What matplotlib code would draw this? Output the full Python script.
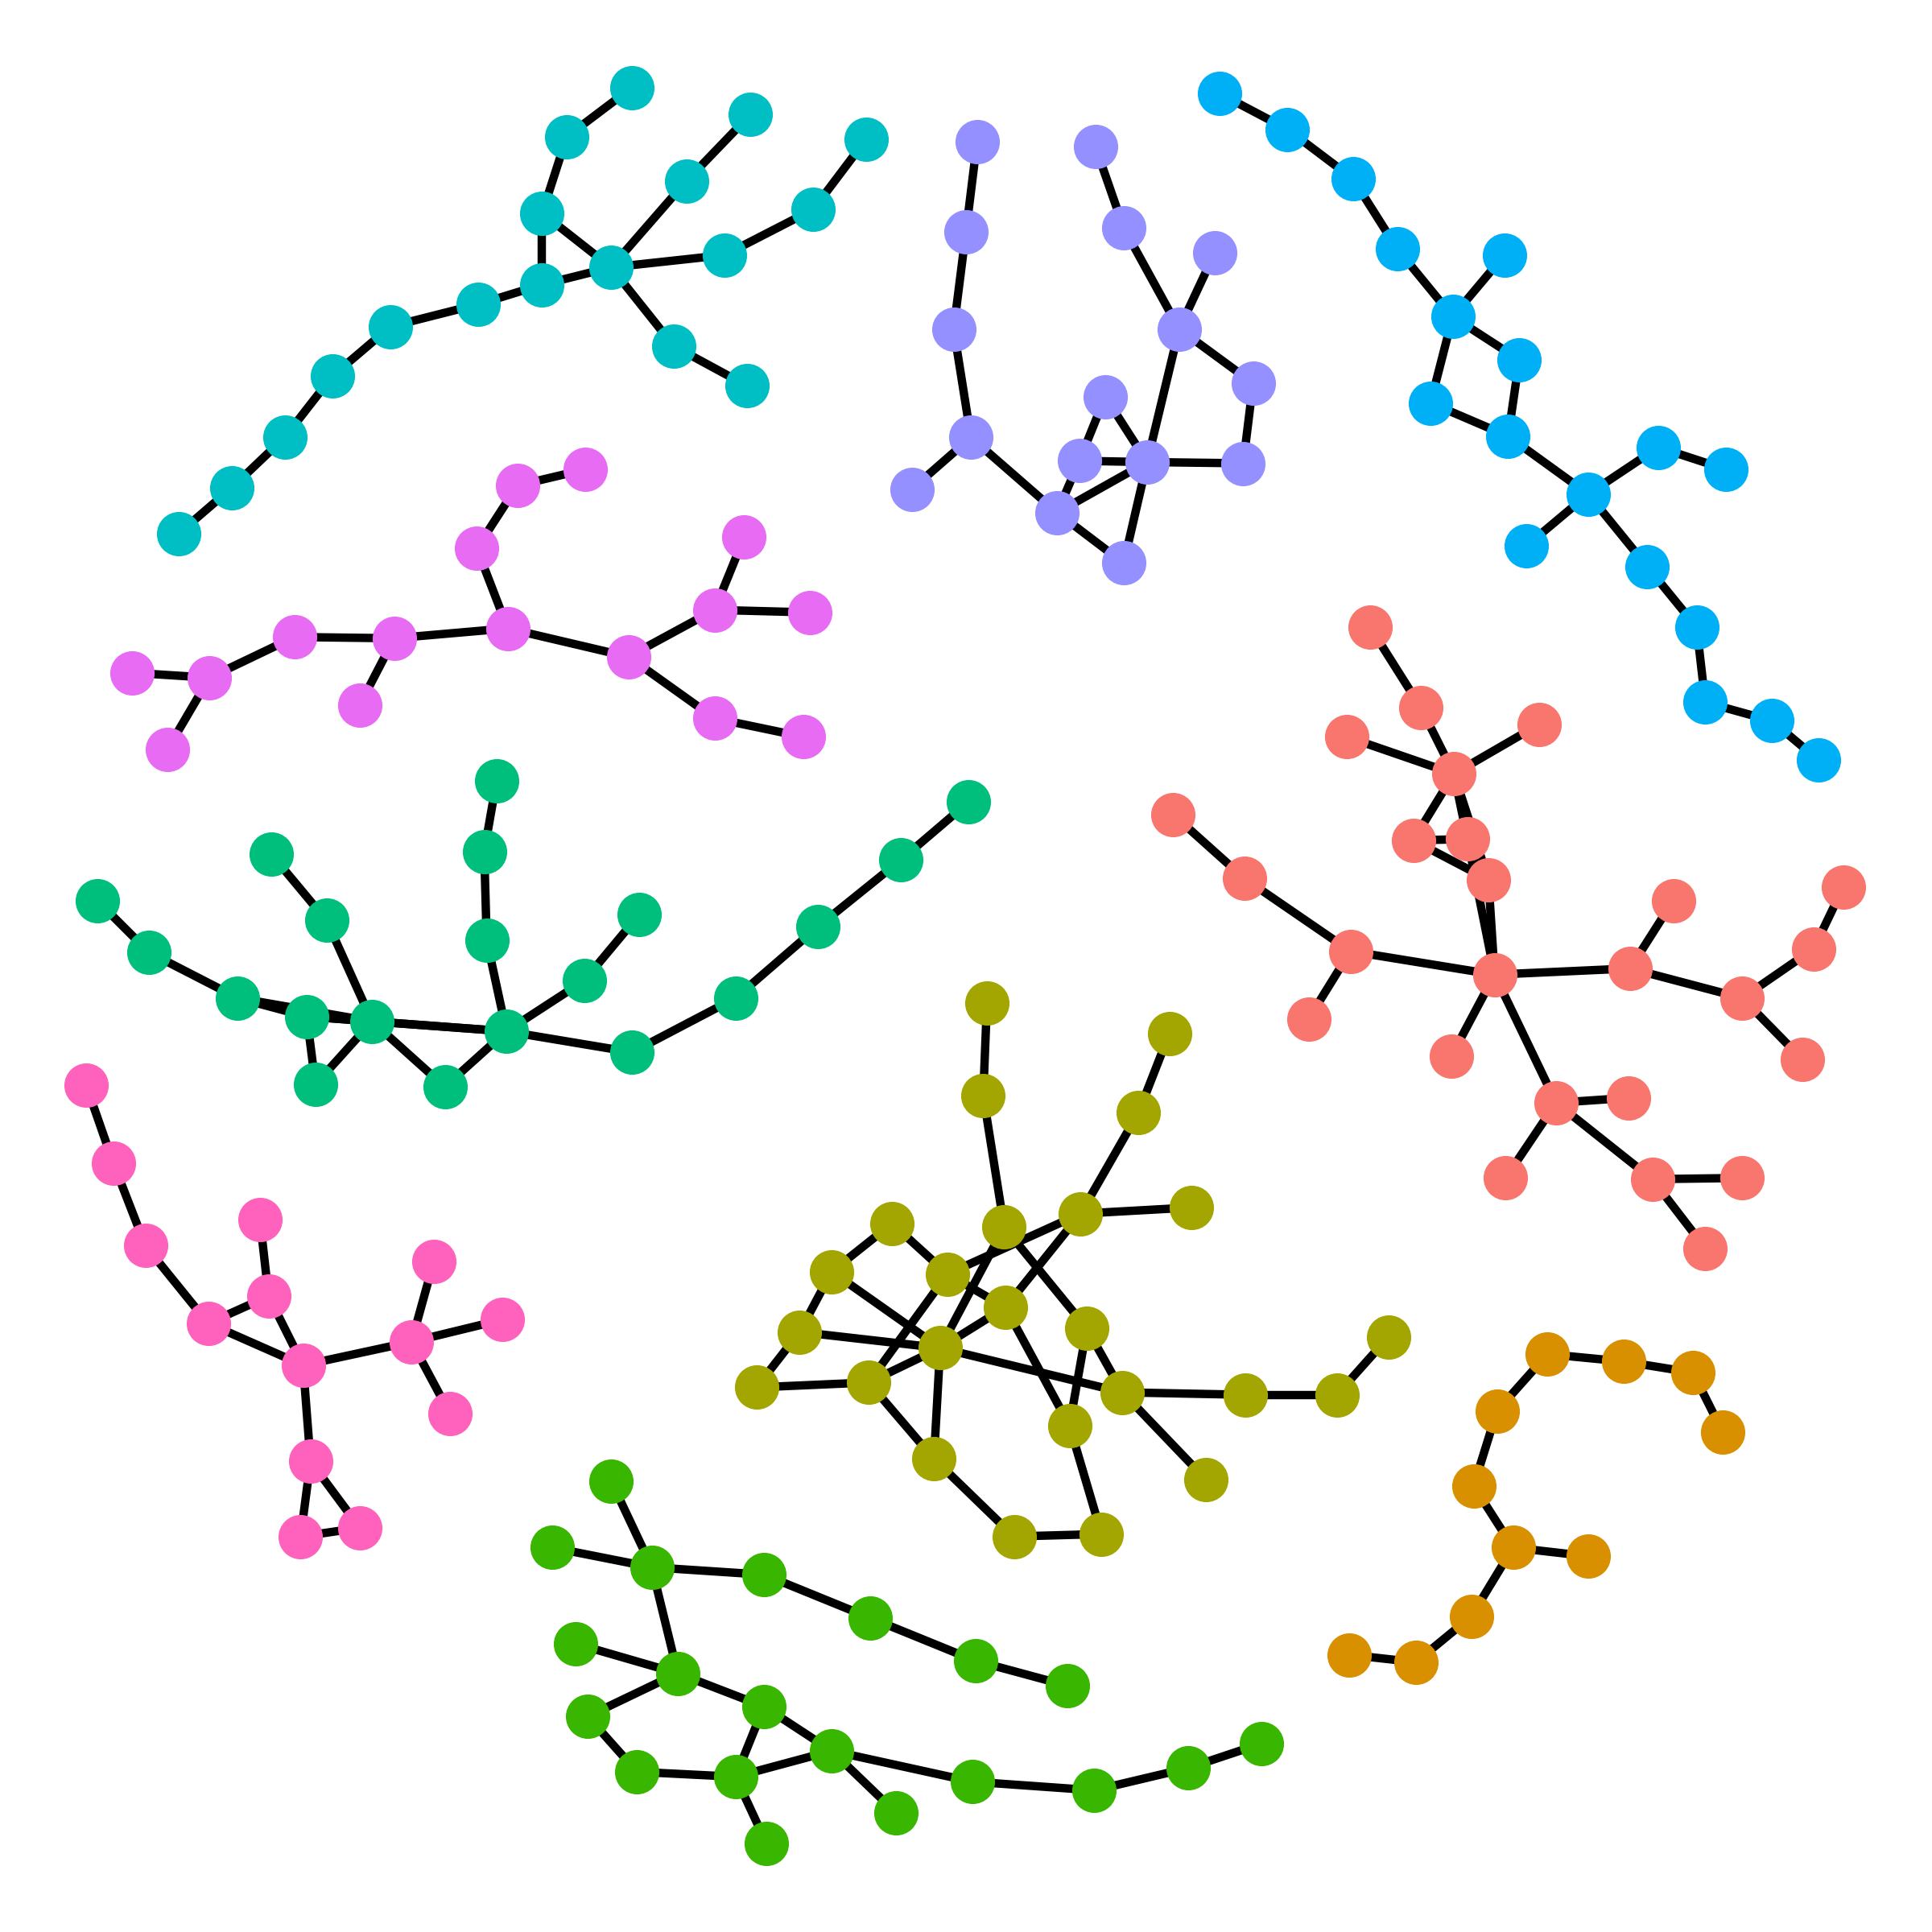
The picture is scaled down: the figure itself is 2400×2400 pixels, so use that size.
import matplotlib
matplotlib.use("Agg")
import matplotlib.pyplot as plt

# layout coordinates (pixel units on a 1568 x 1568 canvas, y grows downwards)
teal_x = [513, 460, 440, 440, 496, 557, 609, 588, 660, 703, 547, 606, 388, 317, 270, 231, 188, 145]
teal_y = [71, 111, 173, 231, 217, 147, 93, 207, 170, 113, 281, 313, 247, 265, 305, 355, 396, 433]
teal_edges = [(0, 1), (1, 2), (2, 3), (2, 4), (3, 4), (4, 5), (5, 6), (4, 7), (7, 8), (8, 9),
              (4, 10), (10, 11), (3, 12), (12, 13), (13, 14), (14, 15), (15, 16), (16, 17)]

lav_x = [793, 784, 774, 788, 740, 858, 889, 912, 957, 986, 1017, 1009, 931, 876, 897, 912]
lav_y = [115, 188, 267, 355, 397, 416, 119, 185, 267, 205, 311, 376, 375, 374, 322, 457]
lav_edges = [(0, 1), (1, 2), (2, 3), (3, 4), (3, 5), (6, 7), (7, 8), (8, 9), (8, 10), (10, 11),
             (11, 12), (8, 12), (12, 13), (12, 14), (13, 14), (13, 5), (5, 12), (5, 15), (12, 15)]

blue_x = [990, 1045, 1098, 1134, 1179, 1221, 1233, 1161, 1224, 1289, 1346, 1401, 1239, 1337, 1377, 1384, 1438, 1476]
blue_y = [76, 105, 145, 202, 257, 207, 292, 327, 354, 401, 363, 381, 443, 460, 509, 570, 585, 617]
blue_edges = [(0, 1), (1, 2), (2, 3), (3, 4), (4, 5), (4, 6), (4, 7), (6, 8), (7, 8), (8, 9),
              (9, 10), (10, 11), (9, 12), (9, 13), (13, 14), (14, 15), (15, 16), (16, 17)]

mag_x = [475, 420, 387, 412, 320, 239, 170, 107, 136, 292, 510, 580, 604, 657, 580, 652]
mag_y = [381, 394, 445, 510, 518, 517, 550, 546, 608, 572, 533, 495, 436, 497, 583, 598]
mag_edges = [(0, 1), (1, 2), (2, 3), (3, 4), (4, 5), (5, 6), (6, 7), (6, 8), (4, 9), (3, 10),
             (10, 11), (11, 12), (11, 13), (10, 14), (14, 15)]

sea_x = [786, 731, 664, 597, 513, 411, 474, 519, 395, 393, 403, 361, 302, 256, 249, 193, 121, 79, 265, 220]
sea_y = [651, 698, 752, 810, 854, 837, 796, 742, 763, 691, 634, 882, 829, 880, 825, 810, 773, 731, 747, 693]
sea_edges = [(0, 1), (1, 2), (2, 3), (3, 4), (4, 5), (5, 6), (6, 7), (5, 8), (8, 9), (9, 10),
             (5, 11), (11, 12), (5, 12), (14, 5), (12, 13), (12, 18), (18, 19), (13, 14), (14, 12),
             (15, 14), (15, 12), (16, 15), (17, 16)]

sal_x = [1112, 1153, 1180, 1093, 1249, 1147, 1191, 1208, 1213, 952, 1010, 1096, 1062, 1178, 1323, 1358,
         1414, 1472, 1496, 1463, 1263, 1322, 1222, 1341, 1414, 1384]
sal_y = [509, 574, 628, 598, 588, 682, 681, 714, 791, 661, 713, 772, 827, 857, 786, 731,
         810, 770, 720, 860, 895, 891, 956, 957, 956, 1013]
sal_edges = [(0, 1), (1, 2), (2, 3), (2, 4), (2, 5), (2, 6), (5, 6), (5, 7), (6, 7), (2, 7),
             (7, 8), (6, 8), (9, 10), (10, 11), (11, 12), (11, 8), (8, 13), (8, 14), (14, 15),
             (14, 16), (16, 17), (17, 18), (16, 19), (8, 20), (20, 21), (20, 22), (20, 23),
             (23, 24), (23, 25)]

olive_x = [801, 798, 815, 949, 924, 877, 967, 724, 675, 769, 816, 649, 763, 614, 705, 882,
           911, 868, 758, 823, 894, 979, 1011, 1085, 1127]
olive_y = [814, 889, 996, 839, 903, 985, 980, 993, 1032, 1034, 1061, 1081, 1094, 1126, 1122, 1078,
           1130, 1157, 1184, 1247, 1245, 1201, 1132, 1132, 1085]
olive_edges = [(0, 1), (1, 2), (3, 4), (4, 5), (5, 6), (5, 9), (5, 10), (10, 12), (2, 12),
               (2, 15), (7, 8), (7, 9), (9, 10), (9, 14), (8, 11), (8, 12), (11, 12), (11, 13),
               (13, 14), (14, 12), (14, 18), (12, 18), (12, 16), (10, 17), (15, 17), (15, 16),
               (16, 22), (22, 23), (23, 24), (16, 21), (18, 19), (19, 20), (20, 17)]

orange_x = [1256, 1318, 1374, 1398, 1215, 1196, 1228, 1289, 1194, 1149, 1095]
orange_y = [1099, 1105, 1114, 1162, 1145, 1206, 1256, 1263, 1312, 1349, 1343]
orange_edges = [(0, 1), (1, 2), (2, 3), (0, 4), (4, 5), (5, 6), (6, 7), (6, 8), (8, 9), (9, 10)]

pink_x = [70, 92, 118, 169, 218, 211, 246, 334, 352, 408, 365, 252, 244, 292]
pink_y = [881, 944, 1011, 1074, 1052, 990, 1108, 1089, 1024, 1071, 1147, 1186, 1247, 1240]
pink_edges = [(0, 1), (1, 2), (2, 3), (3, 4), (4, 5), (4, 6), (3, 6), (6, 7), (7, 8), (7, 9),
              (7, 10), (6, 11), (11, 12), (11, 13), (12, 13)]

green_x = [496, 529, 448, 620, 706, 792, 866, 550, 467, 477, 517, 597, 620, 675, 622, 727,
           789, 888, 964, 1024]
green_y = [1202, 1272, 1256, 1278, 1313, 1348, 1368, 1358, 1334, 1393, 1438, 1442, 1385, 1421,
           1496, 1471, 1446, 1453, 1435, 1415]
green_edges = [(0, 1), (2, 1), (1, 3), (3, 4), (4, 5), (5, 6), (1, 7), (8, 7), (7, 9), (9, 10),
               (10, 11), (7, 12), (12, 11), (12, 13), (11, 13), (11, 14), (13, 15), (13, 16),
               (16, 17), (17, 18), (18, 19)]

groups = [
    (sal_x, sal_y, sal_edges, "#F8766D"),
    (orange_x, orange_y, orange_edges, "#D89000"),
    (olive_x, olive_y, olive_edges, "#A3A500"),
    (green_x, green_y, green_edges, "#39B600"),
    (sea_x, sea_y, sea_edges, "#00BF7D"),
    (teal_x, teal_y, teal_edges, "#00BFC4"),
    (blue_x, blue_y, blue_edges, "#00B0F6"),
    (lav_x, lav_y, lav_edges, "#9590FF"),
    (mag_x, mag_y, mag_edges, "#E76BF3"),
    (pink_x, pink_y, pink_edges, "#FF62BC"),
]

fig = plt.figure(figsize=(8, 8), dpi=300)
ax = fig.add_axes([0, 0, 1, 1])
ax.set_xlim(0, 1568)
ax.set_ylim(1568, 0)
ax.axis("off")

# edges first, nodes on top
for xs, ys, edges, color in groups:
    for a, b in edges:
        ax.plot([xs[a], xs[b]], [ys[a], ys[b]], color="black", lw=2.5,
                solid_capstyle="butt", zorder=1)
for xs, ys, edges, color in groups:
    ax.scatter(xs, ys, s=175, color=color, linewidths=0, zorder=2)

fig.savefig("out.png", facecolor="white")
